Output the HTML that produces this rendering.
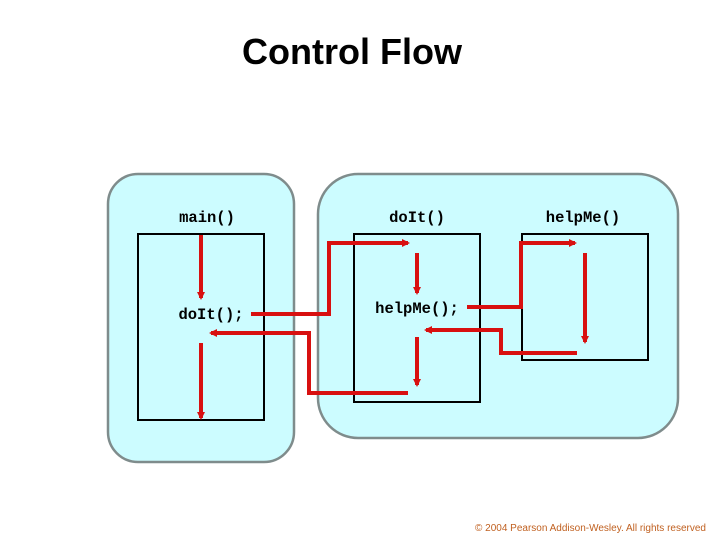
<!DOCTYPE html>
<html><head><style>
body{margin:0;background:#fff;width:720px;height:540px;overflow:hidden}
</style></head><body>
<svg width="720" height="540" xmlns="http://www.w3.org/2000/svg">
<defs><marker id="a" markerWidth="8" markerHeight="8" refX="6" refY="4" orient="auto" markerUnits="userSpaceOnUse"><path d="M0,0 L8,4 L0,8 z" fill="#d81010"/></marker></defs>
<text x="352" y="64" text-anchor="middle" font-family="Liberation Sans, sans-serif" font-weight="bold" font-size="36">Control Flow</text>
<rect x="108" y="174" width="186" height="288" rx="30" fill="#ccfcff" stroke="#7f8c8c" stroke-width="2.5"/>
<rect x="318" y="174" width="360" height="264" rx="40" fill="#ccfcff" stroke="#7f8c8c" stroke-width="2.5"/>
<g fill="none" stroke="#000" stroke-width="2">
<rect x="138" y="234" width="126" height="186"/>
<rect x="354" y="234" width="126" height="168"/>
<rect x="522" y="234" width="126" height="126"/>
</g>
<g font-family="Liberation Mono, monospace" font-weight="bold" font-size="15.5" text-anchor="middle">
<text x="207" y="222">main()</text>
<text x="211" y="319">doIt();</text>
<text x="417" y="222">doIt()</text>
<text x="583" y="222">helpMe()</text>
<text x="417" y="313">helpMe();</text>
</g>
<g fill="none" stroke="#d81010" stroke-width="4" marker-end="url(#a)">
<path d="M201,235 V298"/>
<path d="M201,343 V418"/>
<path d="M251,314 H329 V243 H408"/>
<path d="M408,393 H309 V333 H211"/>
<path d="M417,253 V293"/>
<path d="M417,337 V385"/>
<path d="M467,307 H521 V243 H575"/>
<path d="M577,353 H501 V330 H426"/>
<path d="M585,253 V342"/>
</g>
<text x="706" y="531" text-anchor="end" font-family="Liberation Sans, sans-serif" font-size="10" fill="#c06020">© 2004 Pearson Addison-Wesley. All rights reserved</text>
</svg>
</body></html>
